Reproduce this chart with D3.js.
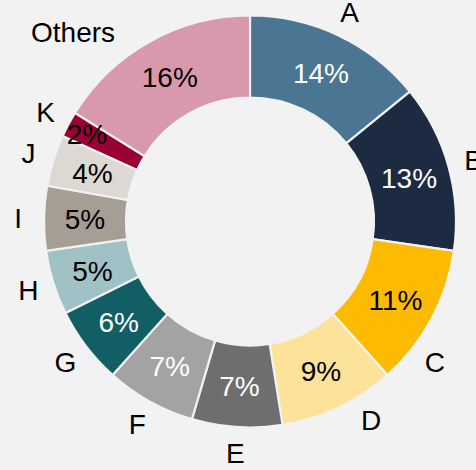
<!DOCTYPE html>
<html>
<head>
<meta charset="utf-8">
<script src="https://cdn.jsdelivr.net/npm/d3@7"></script>
<style>
  html, body { margin: 0; padding: 0; background: #f2f2f2; }
  svg { display: block; }
</style>
</head>
<body>
<svg id="chart"></svg>
<script>
const categories = ['A', 'B', 'C', 'D', 'E', 'F', 'G', 'H', 'I', 'J', 'K', 'Others'];
const values = [14, 13, 11, 9, 7, 7, 6, 5, 5, 4, 2, 16];
const colors = ['#4a7593', '#1c2b42', '#fcbb00', '#fde29a', '#6e6e6e', '#a3a3a3',
                '#115e65', '#a0c1c5', '#a69e95', '#dcd9d5', '#9b0034', '#d999ad'];
const pctColors = ['#fff', '#fff', '#000', '#000', '#fff', '#fff',
                   '#fff', '#000', '#000', '#000', '#000', '#000'];

const width = 476;
const height = 470;
const cx = 250, cy = 221.5;
const outerR = 206, innerR = 124;
const nameR = 232;
// a few outside labels sit off their mid angle in the original (degrees)
const nameNudge = {C: 9, D: -6, Others: -14};

const svg = d3.select('#chart')
  .attr('width', width)
  .attr('height', height)
  .style('background-color', '#f2f2f2');

const g = svg.append('g').attr('transform', `translate(${cx},${cy})`);

const total = d3.sum(values);
const pie = d3.pie().sort(null).value(d => d.v);
const arcs = pie(categories.map((c, i) => ({c, v: values[i], i})));

const arc = d3.arc().innerRadius(innerR).outerRadius(outerR);
// the tiny K slice has its % label pushed outward a bit
const arcK = d3.arc().innerRadius(innerR + 20).outerRadius(outerR + 20);

g.selectAll('path.slice')
  .data(arcs)
  .join('path')
  .attr('class', 'slice')
  .attr('d', arc)
  .attr('fill', d => colors[d.data.i])
  .attr('stroke', '#f2f2f2')
  .attr('stroke-width', 2.2);

const font = 'Liberation Sans, Arial, Helvetica, sans-serif';

g.selectAll('text.pct')
  .data(arcs)
  .join('text')
  .attr('class', 'pct')
  .attr('transform', d => `translate(${(d.data.c === 'K' ? arcK : arc).centroid(d)})`)
  .attr('text-anchor', 'middle')
  .attr('dy', '0.36em')
  .style('font-family', font)
  .style('font-size', '28px')
  .style('fill', d => pctColors[d.data.i])
  .text(d => Math.round(d.data.v / total * 100) + '%');

g.selectAll('text.name')
  .data(arcs)
  .join('text')
  .attr('class', 'name')
  .attr('transform', d => {
    const a = (d.startAngle + d.endAngle) / 2 + (nameNudge[d.data.c] || 0) * Math.PI / 180;
    const r = d.data.c === 'Others' ? 259 : nameR;
    return `translate(${r * Math.sin(a)},${-r * Math.cos(a)})`;
  })
  .attr('text-anchor', 'middle')
  .attr('dy', '0.36em')
  .style('font-family', font)
  .style('font-size', '28px')
  .style('fill', '#000')
  .text(d => d.data.c);
</script>
</body>
</html>
